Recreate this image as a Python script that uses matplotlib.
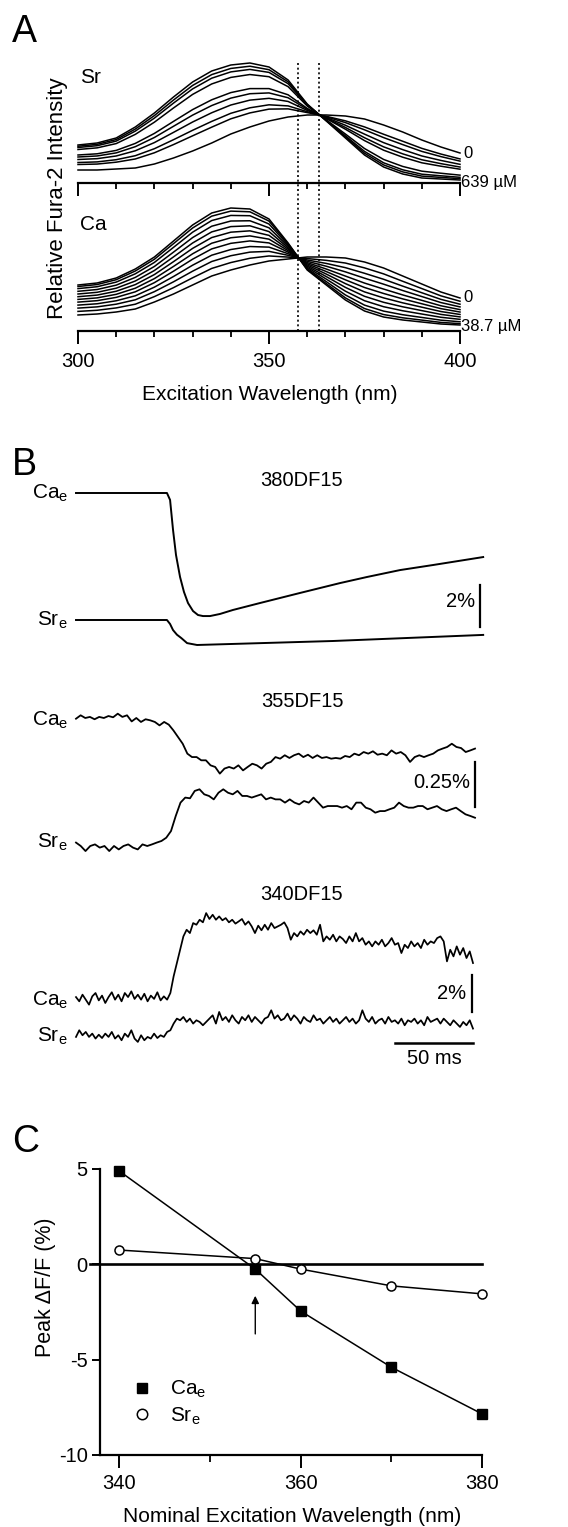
"""
Fura-2 spectra (A), fluorescence transients at three filters (B), peak dF/F vs wavelength (C)
"""
import numpy as np
import matplotlib
matplotlib.use("Agg")
import matplotlib.pyplot as plt
from matplotlib.lines import Line2D

plt.rcParams['font.family'] = ['Liberation Sans', 'DejaVu Sans']
plt.rcParams['mathtext.fontset'] = 'custom'
plt.rcParams['mathtext.rm'] = 'Liberation Sans'
plt.rcParams['mathtext.it'] = 'Liberation Sans:italic'
plt.rcParams['mathtext.default'] = 'regular'

W, H = 568, 1527  # figure size in px

# ---------------- panel A data: excitation spectra (relative intensity) ----------------
wl = [300, 305, 310, 315, 320, 325, 330, 335, 340, 345, 350,
      355, 360, 365, 370, 375, 380, 385, 390, 395, 400]
sr_free = [13, 13, 14, 15, 19, 25, 32, 40, 49, 56, 62, 66, 68, 68, 67, 64, 58, 51, 43, 36, 30]
sr_bound = [38, 40, 45, 56, 70, 86, 101, 112, 118, 120, 116, 103, 79, 62, 45, 28, 16, 9, 5, 4, 3]
sr_frac = [0, 0.22, 0.3, 0.42, 0.52, 0.6, 0.82, 0.9, 0.95, 1.0]   # bound fraction of each curve
ca_free = [16, 17, 19, 22, 29, 37, 46, 55, 61, 66, 70, 72, 74, 74, 73, 69, 63, 55, 47, 39, 33]
ca_bound = [46, 48, 53, 62, 74, 90, 106, 118, 123, 122, 112, 88, 61, 46, 31, 20, 14, 11, 9, 7, 6]
ca_frac = [0, 0.12, 0.23, 0.33, 0.43, 0.52, 0.61, 0.7, 0.79, 0.88, 0.95, 1.0]
isosbestic = [357.5, 363]

# ---------------- panel B data: dF/F traces (%) ----------------
# 380DF15, smooth traces: (time ms, dF/F %)
t380_ca = [0, 58.3, 60.3, 62.2, 64.1, 66.7, 69.2, 71.8, 75, 78.2, 81.4, 85.9, 92.3, 100.6,
           117.9, 143.6, 169.2, 186.5, 207.7, 228.8, 261]
ca380 = [0, 0, -0.33, -1.76, -2.95, -4.0, -4.71, -5.24, -5.62, -5.81, -5.86, -5.86, -5.76, -5.57,
         -5.24, -4.76, -4.29, -4.0, -3.67, -3.43, -3.05]
t380_sr = [0, 58.3, 60.3, 62.2, 64.7, 67.5, 71.2, 77.6, 100.6, 164.7, 261]
sr380 = [0, 0, -0.19, -0.48, -0.7, -0.86, -1.1, -1.19, -1.14, -1.0, -0.71]

# 355DF15 (sampled evenly over 256 ms)
ca355 = [-0.004, 0.015, 0.000, 0.006, -0.007, 0.006, 0.000, 0.011, 0.004, 0.024, 0.006, 0.015,
         -0.019, 0.000, -0.022, -0.007, -0.013, -0.022, -0.041, -0.022, -0.037, -0.069, -0.106,
         -0.143, -0.198, -0.217, -0.217, -0.235, -0.235, -0.263, -0.272, -0.309, -0.281, -0.272,
         -0.281, -0.263, -0.291, -0.272, -0.254, -0.263, -0.281, -0.254, -0.244, -0.217, -0.226,
         -0.207, -0.222, -0.207, -0.198, -0.217, -0.204, -0.222, -0.207, -0.222, -0.217, -0.226,
         -0.222, -0.226, -0.211, -0.217, -0.198, -0.207, -0.189, -0.198, -0.185, -0.204, -0.198,
         -0.207, -0.180, -0.198, -0.189, -0.207, -0.244, -0.217, -0.207, -0.217, -0.207, -0.198,
         -0.180, -0.170, -0.161, -0.143, -0.161, -0.167, -0.189, -0.180, -0.170]
sr355 = [0.019, 0, -0.028, 0, 0.009, -0.009, 0, -0.028, 0, -0.019, 0, 0.009, -0.009, -0.019,
         0.009, 0, 0.009, 0.019, 0.028, 0.046, 0.083, 0.167, 0.241, 0.269, 0.265, 0.306, 0.315,
         0.287, 0.278, 0.259, 0.296, 0.315, 0.296, 0.287, 0.306, 0.278, 0.278, 0.269, 0.278,
         0.287, 0.259, 0.269, 0.259, 0.259, 0.241, 0.259, 0.241, 0.231, 0.250, 0.241, 0.269,
         0.241, 0.213, 0.222, 0.222, 0.222, 0.213, 0.222, 0.204, 0.241, 0.241, 0.213, 0.204,
         0.185, 0.194, 0.194, 0.204, 0.213, 0.241, 0.222, 0.213, 0.213, 0.222, 0.222, 0.204,
         0.213, 0.222, 0.204, 0.194, 0.204, 0.213, 0.194, 0.176, 0.167, 0.157]

# 340DF15 (sampled evenly over 254.5 ms)
ca340 = [0.05, -0.18, 0.18, -0.09, -0.36, 0.09, 0.27, -0.13, 0.13, -0.27, 0.05, 0.31, -0.09,
         0.18, -0.18, 0.27, 0.05, 0.36, -0.05, 0.18, -0.09, 0.23, -0.18, 0.13, -0.05, 0.31,
         -0.13, 0.09, -0.09, 0.27, 1.17, 1.89, 2.61, 3.33, 3.69, 3.51, 4.05, 3.96, 4.23, 4.09,
         4.59, 4.27, 4.50, 4.23, 4.41, 4.20, 4.32, 4.09, 4.23, 4.02, 4.14, 4.27, 3.96, 4.14,
         3.87, 3.51, 3.91, 3.66, 3.96, 3.69, 4.05, 3.78, 3.87, 3.96, 4.09, 3.78, 3.15, 3.51,
         3.33, 3.60, 3.42, 3.69, 3.51, 3.66, 3.42, 3.96, 3.06, 3.33, 3.15, 3.42, 3.06, 3.33,
         3.19, 2.97, 3.33, 3.06, 3.51, 3.06, 3.24, 2.88, 3.06, 2.79, 3.06, 2.88, 3.15, 2.79,
         2.97, 3.24, 2.88, 2.97, 2.43, 2.88, 2.70, 3.06, 2.79, 2.97, 2.70, 3.15, 2.88, 3.06,
         2.97, 3.24, 3.33, 3.06, 1.98, 2.61, 2.25, 2.79, 2.34, 2.70, 2.16, 2.52, 1.89]
sr340 = [-0.05, 0.31, 0.04, 0.22, -0.05, 0.13, -0.14, 0.07, -0.11, 0.13, -0.05, 0.22, -0.14,
         0.04, -0.23, 0.13, -0.05, 0.31, -0.14, -0.32, 0.04, -0.23, -0.05, -0.14, 0.13, -0.11,
         0.04, -0.05, 0.22, 0.31, 0.67, 0.94, 0.85, 1.03, 0.76, 0.94, 0.67, 0.85, 0.76, 0.58,
         0.76, 0.94, 1.12, 0.67, 1.30, 0.85, 1.03, 0.76, 1.12, 0.85, 0.67, 1.03, 0.85, 1.12,
         0.76, 1.03, 0.85, 0.67, 0.94, 1.03, 1.39, 0.94, 1.12, 0.85, 0.94, 1.21, 0.85, 1.12,
         0.94, 0.67, 1.03, 0.85, 0.76, 1.12, 0.85, 0.94, 0.67, 0.85, 1.03, 0.76, 0.94, 0.67,
         0.85, 1.03, 0.76, 0.94, 0.67, 0.85, 1.39, 0.94, 0.76, 1.03, 0.67, 0.85, 0.94, 0.67,
         1.03, 0.76, 0.85, 0.67, 0.94, 0.58, 0.85, 0.76, 0.94, 0.67, 0.85, 0.58, 1.03, 0.76,
         0.85, 0.94, 0.67, 0.94, 0.76, 0.58, 0.85, 0.67, 0.49, 0.76, 0.58, 0.85, 0.40]

# ---------------- panel C data ----------------
wl_c = [340, 355, 360, 370, 380]
ca_peak = [4.9, -0.25, -2.45, -5.4, -7.85]
sr_peak = [0.75, 0.3, -0.25, -1.13, -1.55]


def fx(x):
    return x / W


def fy(y):
    return 1 - y / H


def px_axes(left, top, right, bottom):
    return fig.add_axes([fx(left), fy(bottom), (right - left) / W, (bottom - top) / H])


def ftext(x, y, s, **kw):
    fig.text(fx(x), fy(y), s, **kw)


fig = plt.figure(figsize=(W / 100, H / 100), dpi=100)

# ======================= panel A =======================
ax_sr = px_axes(78, 55, 460, 183)
ax_ca = px_axes(78, 195, 460, 331)
for ax, free, bound, frac, top in [(ax_sr, sr_free, sr_bound, sr_frac, 128),
                                    (ax_ca, ca_free, ca_bound, ca_frac, 136)]:
    free = np.asarray(free, float)
    bound = np.asarray(bound, float)
    for f in frac:
        ax.plot(wl, free + f * (bound - free), color='k', lw=1.1, clip_on=False)
    ax.set_xlim(300, 400)
    ax.set_ylim(0, top)
    for s in ['left', 'top', 'right']:
        ax.spines[s].set_visible(False)
    ax.spines['bottom'].set_linewidth(1.6)
    ax.set_yticks([])
    ax.set_xticks([300, 350, 400])
    ax.set_xticks(np.arange(300, 401, 10), minor=True)
    ax.tick_params(axis='x', which='major', direction='out', length=9, width=1.4,
                   labelsize=14.5, pad=6)
    ax.tick_params(axis='x', which='minor', direction='out', length=4.5, width=1.3)
    ax.patch.set_visible(False)
ax_sr.tick_params(axis='x', labelbottom=False)

# dotted lines through the isosbestic points, spanning both spectra
for w in isosbestic:
    ax_sr.plot([w, w], [120, -148], color='k', lw=1.2, ls=(0, (1.2, 1.6)), clip_on=False)

ftext(12, 42, 'A', fontsize=27, va='baseline')
ftext(80, 83, 'Sr', fontsize=15, va='baseline')
ftext(80, 230, 'Ca', fontsize=15, va='baseline')
ftext(57, 198, 'Relative Fura-2 Intensity', fontsize=16, rotation=90, ha='center', va='center')
ftext(270, 395, 'Excitation Wavelength (nm)', fontsize=15, ha='center', va='center')
ftext(463, 153, '0', fontsize=12, va='center')
ftext(461, 183, '639 \u00b5M', fontsize=12, va='center')
ftext(463, 298, '0', fontsize=12, va='center')
ftext(461, 326, '38.7 \u00b5M', fontsize=12, va='center')

# ======================= panel B =======================
MS_PER_PX = 0.641
X0 = 76  # px position of t = 0
ax_b = px_axes(0, 440, W, 1075)
ax_b.set_xlim(-X0 * MS_PER_PX, (W - X0) * MS_PER_PX)
ax_b.set_ylim(1075, 440)
ax_b.axis('off')


def trace(t, v, base_px, px_per_pct, lw=1.3):
    ax_b.plot(t, base_px - np.asarray(v) * px_per_pct, color='k', lw=lw)


def t_of(x):
    return (x - X0) * MS_PER_PX


# 380
trace(t380_ca, ca380, 493, 21, lw=1.4)
trace(t380_sr, sr380, 620, 21, lw=1.4)
ax_b.plot([t_of(480)] * 2, [627, 627 - 2 * 21], color='k', lw=1.6)
# 355
trace(np.linspace(0, t_of(475), len(ca355)), ca355, 718, 180)
trace(np.linspace(0, t_of(475), len(sr355)), sr355, 846, 180)
ax_b.plot([t_of(475)] * 2, [807, 807 - 0.25 * 180], color='k', lw=1.6)
# 340
trace(np.linspace(0, t_of(473), len(ca340)), ca340, 998, 18.5, lw=1.25)
trace(np.linspace(0, t_of(473), len(sr340)), sr340, 1036, 18.5, lw=1.25)
ax_b.plot([t_of(472)] * 2, [1012, 1012 - 2 * 18.5], color='k', lw=1.6)
ax_b.plot([t_of(473) - 50, t_of(473)], [1043, 1043], color='k', lw=1.8)

ftext(12, 475, 'B', fontsize=27, va='baseline')
for y, title in [(481, '380DF15'), (702, '355DF15'), (895, '340DF15')]:
    ftext(302, y, title, fontsize=14.5, ha='center', va='center')
for y, lab in [(493, r'Ca$_{\mathrm{e}}$'), (620, r'Sr$_{\mathrm{e}}$'),
               (720, r'Ca$_{\mathrm{e}}$'), (842, r'Sr$_{\mathrm{e}}$'),
               (1000, r'Ca$_{\mathrm{e}}$'), (1036, r'Sr$_{\mathrm{e}}$')]:
    ftext(68, y, lab, fontsize=15, ha='right', va='center')
ftext(475, 601, '2%', fontsize=14.5, ha='right', va='center')
ftext(470, 783, '0.25%', fontsize=14.5, ha='right', va='center')
ftext(466, 993, '2%', fontsize=14.5, ha='right', va='center')
ftext(434, 1058, '50 ms', fontsize=14.5, ha='center', va='center')

# ======================= panel C =======================
ax_c = px_axes(100, 1169, 485, 1455)
ax_c.set_xlim(337.9, 380.3)
ax_c.set_ylim(-10, 5)
ax_c.plot([337.9 - 10 / 9.075, 380], [0, 0], color='k', lw=1.9, clip_on=False, zorder=2)
ax_c.plot(wl_c, ca_peak, color='k', lw=1.1, marker='s', ms=6.5, mfc='k', mec='k',
          clip_on=False, zorder=4)
ax_c.plot(wl_c, sr_peak, color='k', lw=1.1, marker='o', ms=6.5, mfc='white', mec='k',
          mew=1.1, clip_on=False, zorder=3)
ax_c.annotate('', xy=(355, -1.65), xytext=(355, -3.65),
              arrowprops=dict(arrowstyle='-|>', lw=1.0, color='k', mutation_scale=11,
                              shrinkA=0, shrinkB=0))
for s in ['top', 'right']:
    ax_c.spines[s].set_visible(False)
for s in ['left', 'bottom']:
    ax_c.spines[s].set_linewidth(1.6)
ax_c.spines['bottom'].set_bounds(337.9, 380)
ax_c.set_yticks([5, 0, -5, -10])
ax_c.set_yticklabels(['5', '0', '-5', '-10'])
ax_c.set_xticks([340, 360, 380])
ax_c.set_xticks([350, 370], minor=True)
ax_c.tick_params(axis='y', direction='out', length=6, width=1.4, labelsize=14.5, pad=3)
ax_c.tick_params(axis='x', which='major', direction='out', length=9, width=1.4,
                 labelsize=14.5, pad=5)
ax_c.tick_params(axis='x', which='minor', direction='out', length=5, width=1.3)
ax_c.patch.set_visible(False)

handles = [Line2D([], [], ls='none', marker='s', ms=7.5, mfc='k', mec='k', color='k'),
           Line2D([], [], ls='none', marker='o', ms=7.5, mfc='white', mec='k', mew=1.1,
                  color='k')]
ax_c.legend(handles, [r'Ca$_{\mathrm{e}}$', r'Sr$_{\mathrm{e}}$'], loc='upper left',
            bbox_to_anchor=((132 - 100) / 385, (1455 - 1379) / 286), frameon=False,
            fontsize=15, handlelength=1.0, handletextpad=0.8, labelspacing=0.25,
            borderpad=0, borderaxespad=0)

ftext(12, 1152, 'C', fontsize=27, va='baseline')
ftext(45, 1287, 'Peak \u0394F/F (%)', fontsize=15.5, rotation=90, ha='center', va='center')
ftext(292, 1517, 'Nominal Excitation Wavelength (nm)', fontsize=15, ha='center', va='center')

fig.savefig('out.png', dpi=100)
